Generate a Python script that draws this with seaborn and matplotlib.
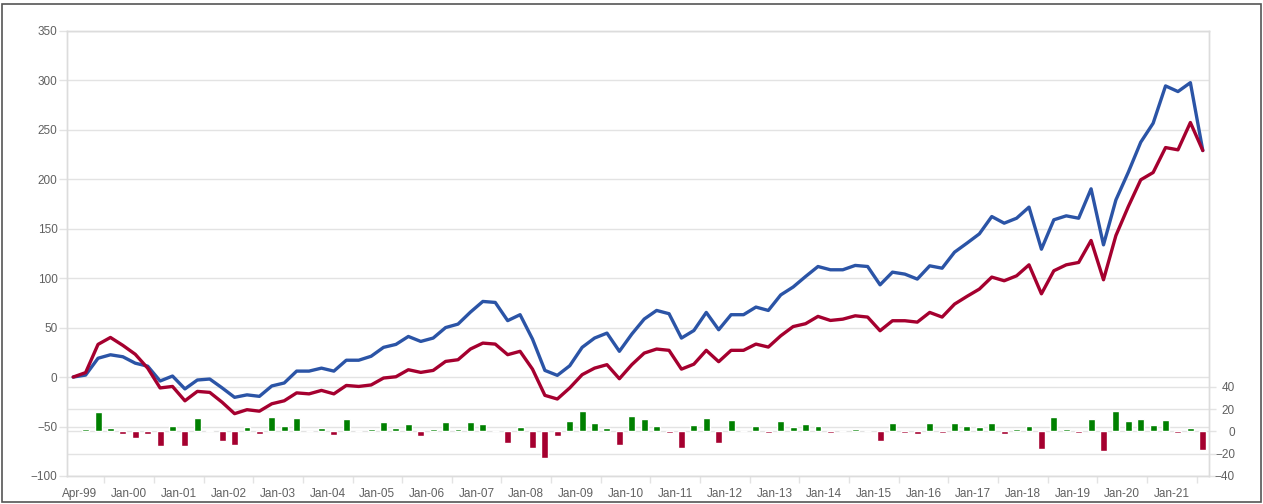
import matplotlib
matplotlib.use('Agg')
import matplotlib.pyplot as plt
import matplotlib.transforms as mtransforms
from matplotlib.patches import Rectangle
import seaborn as sns
import pandas as pd
import numpy as np

# ---------------- data (quarterly, Apr-99 ... Jan-22) ----------------
blue_series = [0, 2, 19, 22.5, 20.5, 14, 11, -4, 1, -12, -3, -2, -11, -20.5, -18, -19.5,
               -9, -6, 6, 6, 9, 6, 17, 17, 21, 30, 33, 41, 36, 39.4, 50, 53.5,
               65.6, 76.4, 75.4, 57, 63, 38.4, 6.7, 1.7, 11.4, 30, 39.4, 44.4, 26, 43.4, 58.6, 67.3,
               64, 39.4, 47, 65.3, 47.8, 63, 63, 70.7, 67.3, 83, 91, 101.6, 111.7, 108.4,
               108.4, 112.8, 111.7, 93.2, 106, 104, 99, 112.4, 110, 126.2, 135.3, 144.7, 162.2, 155.5,
               160.5, 171.7, 129.2, 158.9, 162.9, 160.5, 190.2, 133.6, 179, 207, 237.3, 256.5, 294.2, 288.5,
               297.5, 228.9]

red_series = [0, 4.5, 33, 40, 32, 23, 9, -11, -9.5, -24, -14.5, -15.5, -25.5, -37, -33, -34.5,
              -27, -24, -16, -17, -13.5, -17, -8.5, -9.5, -8, -1, 0.3, 7.4, 4.7, 6.7, 15.8, 17.5,
              28.3, 34.3, 33.3, 22.6, 26, 8, -18.5, -22.2, -11, 2.4, 9, 12.5, -1.7, 12.5, 24.2, 28.3,
              27, 8, 13, 27, 15.5, 27, 27, 33.3, 30.3, 41.7, 51, 53.9, 61.3, 57.2,
              58.5, 61.9, 60.6, 46.8, 56.9, 56.9, 55.5, 65.3, 60.6, 73.7, 81.5, 88.9, 101, 97.3,
              102.3, 113.4, 84.1, 107.4, 113.4, 115.8, 138, 98.3, 143, 172.3, 199.3, 206.7, 231.9, 229.6,
              257.2, 228.9]

# quarterly change bars (from the 2nd quarter on)
bar_changes = [2, 17, 3, -2.7, -6, -2.7, -13, 4.8, -13, 12, 1.2, -8.6, -12.2, 3.9, -2.7,
               12.8, 4.8, 12, 0, 3.3, -3.6, 11, 0, 2.1, 8.3, 3.3, 6.5, -4.2, 2.1, 8.3,
               2.1, 8.3, 6.5, 0, -10.4, 3.9, -14.9, -23.8, -4.2, 9.2, 18.2, 7.4, 3, -12.2, 13.7,
               11, 4.8, -1.5, -14.9, 5.7, 12, -10.4, 10.1, 0, 4.8, -1.5, 9.2, 3.9, 6.5, 4.8,
               -1.5, 0, 2.1, 0, -8.3, 7.4, -1.5, -2.1, 7.4, -1.5, 7.4, 4.8, 3.9, 7.4, -2.1,
               2.1, 4.8, -15.5, 12.8, 2.1, -1.2, 11, -17.3, 18.2, 9.2, 11, 5.7, 10.1, -1.2, 3,
               -16.4]

tick_labels = ['Apr-99', 'Jan-00', 'Jan-01', 'Jan-02', 'Jan-03', 'Jan-04', 'Jan-05', 'Jan-06',
               'Jan-07', 'Jan-08', 'Jan-09', 'Jan-10', 'Jan-11', 'Jan-12', 'Jan-13', 'Jan-14',
               'Jan-15', 'Jan-16', 'Jan-17', 'Jan-18', 'Jan-19', 'Jan-20', 'Jan-21']

left_ticks = [-100, -50, 0, 50, 100, 150, 200, 250, 300, 350]
right_ticks = [-40, -20, 0, 20, 40]

# ---------------- style ----------------
BLUE = '#2B54A6'
RED = '#A5002F'
GREEN = '#008000'
GRID = '#e3e3e3'
SPINE = '#dcdcdc'
TEXT = '#606060'

sns.set_theme(style='white')
plt.rcParams['font.family'] = ['Liberation Sans', 'DejaVu Sans']

W, H = 1263, 504
fig = plt.figure(figsize=(W / 100, H / 100), dpi=100)
ax = fig.add_axes([67 / W, 28 / H, (1209 - 67) / W, 445.3 / H])

n = len(blue_series)
q = np.arange(n)
df_lines = pd.DataFrame({'q': q, 'blue': blue_series, 'red': red_series})

ax2 = ax.twinx()
df_bars = pd.DataFrame({'q': q[1:], 'v': bar_changes})
df_bars['sign'] = np.where(df_bars['v'] >= 0, 'up', 'down')
sns.barplot(data=df_bars, x='q', y='v', hue='sign', palette={'up': GREEN, 'down': RED},
            dodge=False, native_scale=True, width=0.56, saturation=1, legend=False,
            errorbar=None, ax=ax2)

sns.lineplot(data=df_lines, x='q', y='blue', color=BLUE, lw=2.4, ax=ax, zorder=3)
sns.lineplot(data=df_lines, x='q', y='red', color=RED, lw=2.4, ax=ax, zorder=3)

ax.set_xlim(-0.5, n - 0.5)
ax.set_ylim(-100, 350)
ax2.set_ylim(-40, 358.8)
ax.set_xlabel(''); ax.set_ylabel('')
ax2.set_xlabel(''); ax2.set_ylabel('')

# left axis
ax.set_yticks(left_ticks)
ax.grid(axis='y', color=GRID, lw=1)
ax.grid(axis='x', visible=False)
ax.set_axisbelow(True)
ax.tick_params(axis='y', length=5.8, width=1, color=GRID, pad=1, labelsize=8.5, labelcolor=TEXT)

# right axis grid lines drawn in the main axes (behind the lines)
trans = mtransforms.blended_transform_factory(ax.transAxes, ax2.transData)
for v in right_ticks[1:]:
    ax.plot([0, 1], [v, v], transform=trans, color=GRID, lw=1, zorder=0.5)

ax2.set_yticks(right_ticks)
ax2.grid(False)
ax2.tick_params(axis='y', length=5, width=1, color=GRID, pad=13.7, labelsize=8.5, labelcolor=TEXT)
for lbl in ax2.get_yticklabels():
    lbl.set_horizontalalignment('right')
ax2.xaxis.set_visible(False)

# x axis: tick marks at year boundaries, labels centred in each year group
boundaries = np.arange(2.5, n - 1, 4)
ax.set_xticks(boundaries)
ax.set_xticklabels([])
label_pos = [0.5] + list(np.arange(4.5, 4.5 + 4 * (len(tick_labels) - 1), 4))
ax.set_xticks(label_pos, minor=True)
ax.set_xticklabels(tick_labels, minor=True)
ax.tick_params(axis='x', which='major', length=5, width=1, color=GRID, bottom=True)
ax.tick_params(axis='x', which='minor', length=0, pad=8.5, labelsize=8.5, labelcolor=TEXT, bottom=True)
ax.set_xlim(-0.5, n - 0.5)

for a in (ax, ax2):
    for s in a.spines.values():
        s.set_color(SPINE)
        s.set_linewidth(1)

fig.add_artist(Rectangle((2.5 / W, 2.5 / H), (1261 - 2.5) / W, 498 / H,
                         transform=fig.transFigure, fill=False, edgecolor='#555555', lw=1.2))

fig.savefig('out.png', dpi=100)
